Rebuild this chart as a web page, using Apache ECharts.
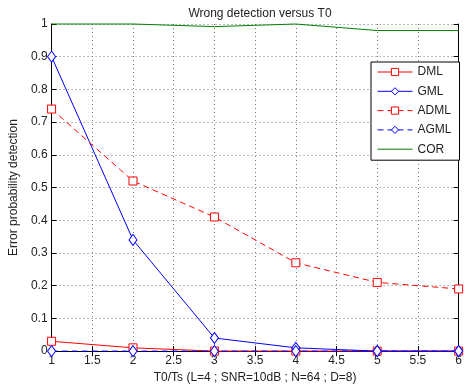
<!DOCTYPE html>
<html><head><meta charset="utf-8">
<script src="https://cdn.jsdelivr.net/npm/echarts@6/dist/echarts.min.js"></script>
<style>html,body{margin:0;padding:0;background:#fff}#c{width:465px;height:389px}</style>
</head><body><div id="c"></div>
<script>
const xValues = [1, 2, 3, 4, 5, 6];
const dml  = [0.03, 0.01, 0, 0, 0, 0];
const gml  = [0.90, 0.34, 0.04, 0.01, 0, 0];
const adml = [0.74, 0.52, 0.41, 0.27, 0.21, 0.19];
const agml = [0, 0, 0, 0, 0, 0];
const cor  = [1, 1, 0.992, 1, 0.98, 0.98];

const pairs = a => xValues.map((x, i) => [x, a[i]]);
const font = 'Liberation Sans';
function mk(name, data, color, dashed, symbol, size) {
  return {
    name, type: 'line', data: pairs(data), clip: false,
    symbol: symbol || 'none', symbolSize: size, showSymbol: !!symbol,
    lineStyle: { color, width: 1, type: dashed ? [6, 4] : 'solid' },
    itemStyle: { color: '#fff', borderColor: color, borderWidth: 1 },
    emphasis: { disabled: true }, animation: false
  };
}
const chart = echarts.init(document.getElementById('c'));
const textStyle = { fontFamily: font, fontSize: 12, color: '#222' };
chart.setOption({
  animation: false,
  textStyle: { fontFamily: font },
  title: { text: 'Wrong detection versus T0', left: 255, top: 3, textAlign: 'center',
    textStyle: { fontFamily: font, fontSize: 12, fontWeight: 'normal', color: '#222' } },
  grid: { left: 48, right: 2, top: 24, bottom: 37 },
  legend: {
    orient: 'vertical', left: 371, top: 62, padding: [4, 8, 5, 6],
    backgroundColor: '#fff', borderColor: '#000', borderWidth: 1,
    itemWidth: 35, itemHeight: 9, itemGap: 7.3,
    lineStyle: { width: 1 },
    itemStyle: { borderWidth: 1 },
    textStyle: { fontFamily: font, fontSize: 12, color: '#222', padding: [0, 0, 0, 0] },
    data: ['DML', 'GML', 'ADML', 'AGML', { name: 'COR', itemStyle: { opacity: 0 } }]
  },
  xAxis: [{
    type: 'value', min: 1, max: 6, interval: 0.5,
    name: 'T0/Ts (L=4 ; SNR=10dB ; N=64 ; D=8)', nameLocation: 'middle', nameGap: 20,
    nameTextStyle: textStyle,
    axisLine: { lineStyle: { color: '#000' } },
    axisTick: { inside: true, length: 5, lineStyle: { color: '#000' } },
    axisLabel: Object.assign({ margin: 4 }, textStyle),
    splitLine: { show: true, lineStyle: { color: '#777', type: [1, 3] } }
  }, {
    type: 'value', position: 'top', min: 1, max: 6, interval: 0.5,
    axisLine: { lineStyle: { color: '#000' } },
    axisTick: { inside: true, length: 5, lineStyle: { color: '#000' } },
    axisLabel: { show: false }, splitLine: { show: false }
  }],
  yAxis: [{
    type: 'value', min: 0, max: 1, interval: 0.1,
    name: 'Error probability detection', nameLocation: 'middle', nameGap: 31,
    nameTextStyle: textStyle,
    axisLine: { show: true, lineStyle: { color: '#000' } },
    axisTick: { show: true, inside: true, length: 5, lineStyle: { color: '#000' } },
    axisLabel: Object.assign({ margin: 4, formatter: v => String(Math.round(v * 10) / 10) }, textStyle),
    splitLine: { show: true, lineStyle: { color: '#777', type: [1, 3] } }
  }, {
    type: 'value', position: 'right', min: 0, max: 1, interval: 0.1,
    axisLine: { show: true, lineStyle: { color: '#000' } },
    axisTick: { show: true, inside: true, length: 5, lineStyle: { color: '#000' } },
    axisLabel: { show: false }, splitLine: { show: false }
  }],
  series: [
    mk('DML', dml, '#ff0000', false, 'rect', 8),
    mk('GML', gml, '#0000ff', false, 'diamond', [8, 11]),
    mk('ADML', adml, '#ff0000', true, 'rect', 8),
    mk('AGML', agml, '#0000ff', true, 'diamond', [8, 11]),
    mk('COR', cor, '#007f00', false, null, 0)
  ]
});
</script></body></html>
